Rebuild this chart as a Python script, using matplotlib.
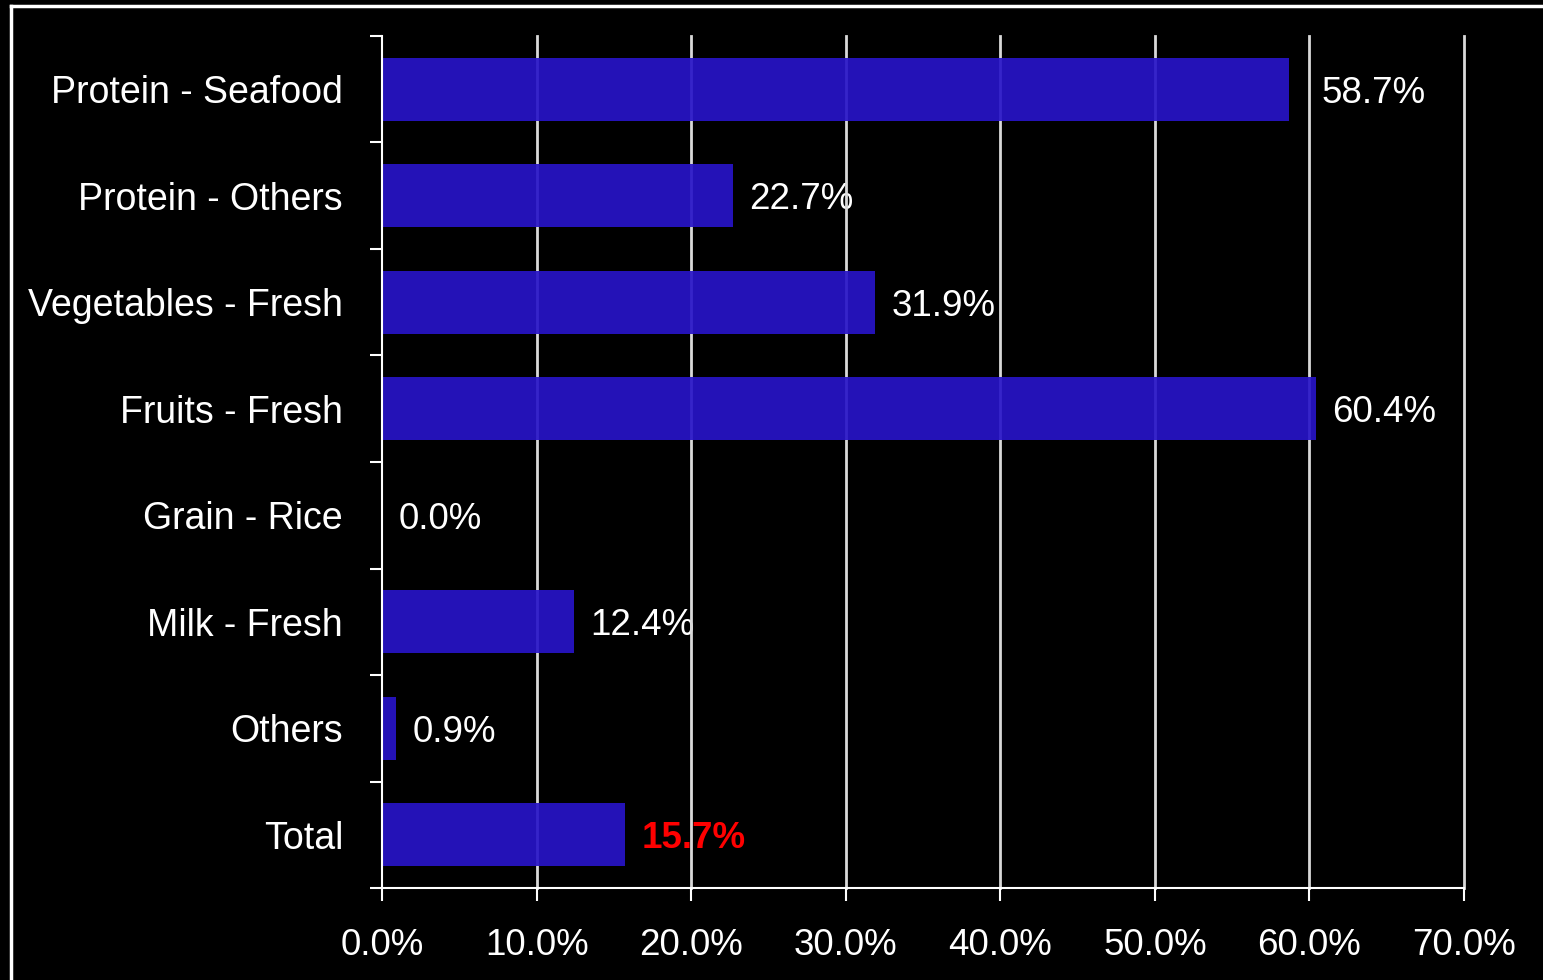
import matplotlib
matplotlib.use("Agg")
import matplotlib.pyplot as plt
from matplotlib.lines import Line2D
from matplotlib.ticker import FixedLocator, FuncFormatter

# share of each food category
categories = ["Protein - Seafood", "Protein - Others", "Vegetables - Fresh",
              "Fruits - Fresh", "Grain - Rice", "Milk - Fresh", "Others", "Total"]
shares = [58.7, 22.7, 31.9, 60.4, 0.0, 12.4, 0.9, 15.7]
x_ticks = [0, 10, 20, 30, 40, 50, 60, 70]

plt.rcParams['font.family'] = ['Liberation Sans', 'DejaVu Sans']

fig = plt.figure(figsize=(15.43, 9.8), dpi=100, facecolor="black")
ax = fig.add_axes([382 / 1543, 1 - 888 / 980, (1464 - 382) / 1543, (888 - 36) / 980])
ax.set_facecolor("black")

pos = list(range(len(categories)))
ax.barh(pos, shares, height=0.59, color="#2814C8", alpha=0.92, zorder=2)

ax.set_xlim(0, 70)
ax.set_ylim(len(categories) - 0.5, -0.5)

# vertical grid
for v in x_ticks[1:]:
    ax.axvline(v, color="#D9D9D9", lw=2, zorder=1, clip_on=False)

for y, v in zip(pos, shares):
    is_total = categories[y] == "Total"
    dx = 23 if v > 55 and v < 60 else 12
    ax.annotate(f"{v:.1f}%", (v, y), xytext=(dx, -3), textcoords="offset points",
                va="center", ha="left", fontsize=26.5,
                color="#FF0000" if is_total else "white",
                fontweight="bold" if is_total else "normal", zorder=0.5)

# x axis
ax.set_xticks(x_ticks)
ax.xaxis.set_major_formatter(FuncFormatter(lambda v, p: f"{v:.1f}%"))
ax.tick_params(axis="x", colors="white", labelsize=26.5, length=9, width=1.5,
               direction="out", pad=20)

# y axis: ticks between categories, labels at centres
ax.yaxis.set_major_locator(FixedLocator([p - 0.5 for p in pos] + [len(pos) - 0.5]))
ax.yaxis.set_major_formatter(FuncFormatter(lambda v, p: ""))
ax.yaxis.set_minor_locator(FixedLocator(pos))
ax.set_yticklabels(categories, minor=True)
ax.tick_params(axis="y", which="major", colors="white", length=9, width=1.5)
ax.tick_params(axis="y", which="minor", colors="white", length=0, labelsize=27, pad=28)

for side in ["top", "right"]:
    ax.spines[side].set_visible(False)
for side in ["left", "bottom"]:
    ax.spines[side].set_color("white")
    ax.spines[side].set_linewidth(1.5)
    ax.spines[side].set_zorder(4)

# outer frame
fig.add_artist(Line2D([11 / 1543, 11 / 1543], [0, 1 - 6 / 980], transform=fig.transFigure,
                      color="white", lw=2.5))
fig.add_artist(Line2D([11 / 1543, 1], [1 - 6 / 980, 1 - 6 / 980], transform=fig.transFigure,
                      color="white", lw=2.5))

fig.savefig("out.png", dpi=100, facecolor="black")
